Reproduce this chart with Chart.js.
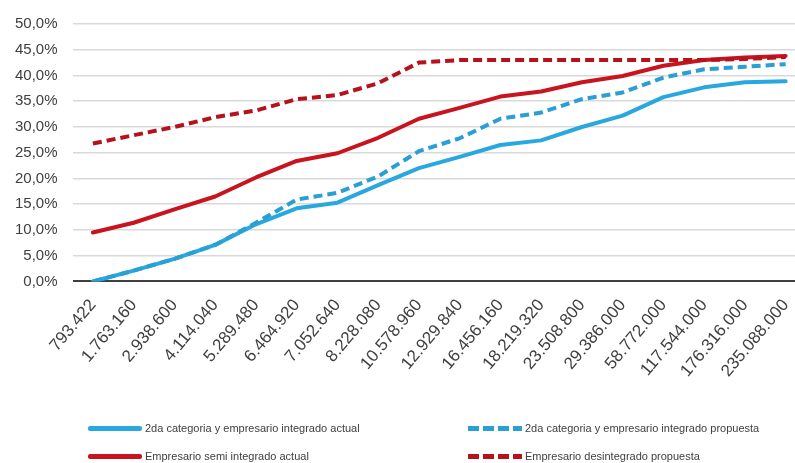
<!DOCTYPE html>
<html>
<head>
<meta charset="utf-8">
<script src="https://cdn.jsdelivr.net/npm/chart.js@4"></script>
<style>
  html, body { margin: 0; padding: 0; background: #fff; overflow: hidden; }
  #wrap { position: relative; width: 795px; height: 463px; }
  #chart { position: absolute; left: 0; top: 0; }
  #legend { position: absolute; left: 0; top: 0; width: 795px; height: 463px; pointer-events: none; }
  .item { position: absolute; display: flex; align-items: center; font-family: "Liberation Sans", Arial, sans-serif;
          font-size: 11px; color: #404040; white-space: nowrap; }
  .item .swatch { width: 54px; height: 5px; margin-right: 3px; }
</style>
</head>
<body>
<div id="wrap">
  <canvas id="chart" width="810" height="400"></canvas>
  <div id="legend"></div>
</div>
<script>
const categories = ['793.422', '1.763.160', '2.938.600', '4.114.040', '5.289.480', '6.464.920',
    '7.052.640', '8.228.080', '10.578.960', '12.929.840', '16.456.160', '18.219.320',
    '23.508.800', '29.386.000', '58.772.000', '117.544.000', '176.316.000', '235.088.000'];

// percentages
const integradoActual = [0, 2.1, 4.4, 7.1, 11.1, 14.2, 15.3, 18.7, 22.0, 24.2, 26.5, 27.4,
    30.0, 32.2, 35.8, 37.7, 38.7, 38.9];
const integradoPropuesta = [0, 2.1, 4.4, 7.1, 11.4, 15.9, 17.2, 20.4, 25.3, 27.8, 31.6, 32.8,
    35.4, 36.7, 39.6, 41.2, 41.7, 42.2];
const semiIntegradoActual = [9.5, 11.4, 14.0, 16.5, 20.2, 23.4, 24.9, 27.9, 31.6, 33.7, 35.9, 36.9,
    38.7, 39.9, 41.9, 43.0, 43.5, 43.8];
const desintegradoPropuesta = [26.8, 28.4, 30.0, 31.9, 33.2, 35.4, 36.2, 38.5, 42.5, 43.0, 43.0, 43.0,
    43.0, 43.0, 43.0, 43.0, 43.2, 43.6];

const BLUE = '#29a8df';
const BLUE_DASH = '#2a9fd4';
const RED = '#c8141e';
const RED_DASH = '#b5121b';

function line(label, data, color, dashed, order) {
    return {
        label: label,
        data: data,
        borderColor: color,
        backgroundColor: color,
        borderWidth: 4,
        borderDash: dashed ? [9, 5] : [],
        borderCapStyle: dashed ? 'butt' : 'round',
        borderJoinStyle: 'round',
        pointRadius: 0,
        tension: 0,
        fill: false,
        order: order
    };
}

const datasets = [
    line('2da categoria y empresario integrado actual', integradoActual, BLUE, false, 4),
    line('2da categoria y empresario integrado propuesta', integradoPropuesta, BLUE_DASH, true, 3),
    line('Empresario semi integrado actual', semiIntegradoActual, RED, false, 2),
    line('Empresario desintegrado propuesta', desintegradoPropuesta, RED_DASH, true, 1)
];

const chart = new Chart(document.getElementById('chart'), {
    type: 'line',
    data: { labels: categories, datasets: datasets },
    options: {
        responsive: false,
        animation: false,
        layout: { padding: { left: 0, top: 8, right: 4, bottom: 13 } },
        plugins: { legend: { display: false }, tooltip: { enabled: false } },
        scales: {
            x: {
                offset: true,
                grid: { display: false },
                border: { display: false },
                ticks: {
                    autoSkip: false,
                    minRotation: 50,
                    maxRotation: 50,
                    padding: 6,
                    color: '#404040',
                    font: { family: 'Liberation Sans', size: 17 }
                }
            },
            y: {
                min: 0,
                max: 50,
                border: { display: false },
                grid: {
                    drawTicks: false,
                    color: ctx => ctx.tick && ctx.tick.value === 0 ? '#404040' : '#d9d9d9',
                    lineWidth: ctx => ctx.tick && ctx.tick.value === 0 ? 2 : 1.5
                },
                ticks: {
                    stepSize: 5,
                    padding: 15,
                    color: '#404040',
                    font: { family: 'Liberation Sans', size: 15 },
                    callback: v => v.toFixed(1).replace('.', ',') + '%'
                }
            }
        }
    }
});

// legend: two columns, filled row by row
const legendSpots = [
    { left: 88, top: 422 },
    { left: 468, top: 422 },
    { left: 88, top: 450 },
    { left: 468, top: 450 }
];
const legendBox = document.getElementById('legend');
chart.data.datasets.forEach((ds, i) => {
    const item = document.createElement('div');
    item.className = 'item';
    item.style.left = legendSpots[i].left + 'px';
    item.style.top = legendSpots[i].top + 'px';
    const sw = document.createElement('span');
    sw.className = 'swatch';
    if (ds.borderDash.length) {
        sw.style.background = 'repeating-linear-gradient(90deg, ' + ds.borderColor + ' 0 11px, transparent 11px 15px)';
    } else {
        sw.style.background = ds.borderColor;
        sw.style.borderRadius = '2px';
    }
    const txt = document.createElement('span');
    txt.textContent = ds.label;
    item.appendChild(sw);
    item.appendChild(txt);
    legendBox.appendChild(item);
});
</script>
</body>
</html>
